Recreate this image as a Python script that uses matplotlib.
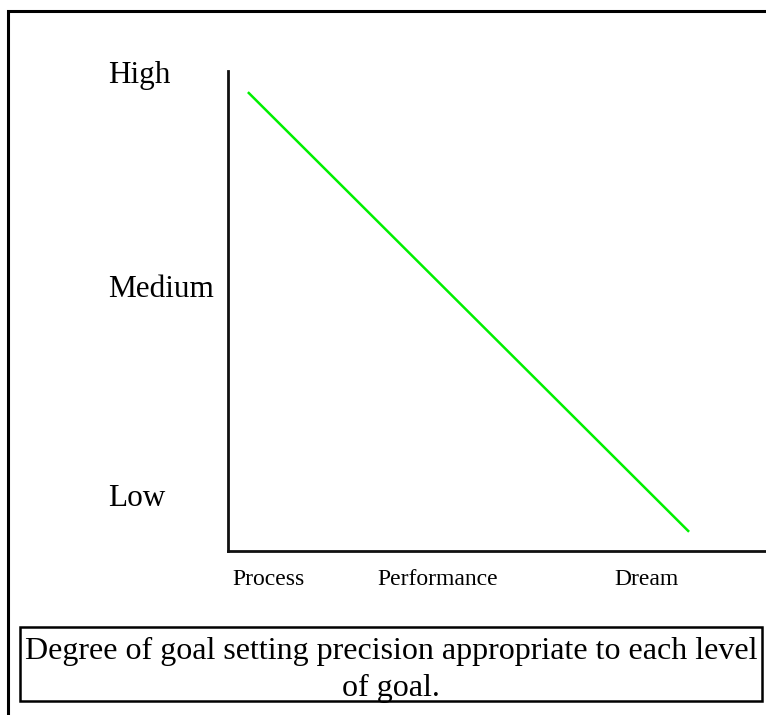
import matplotlib.pyplot as plt
import matplotlib.patches as patches

plt.rcParams['font.family'] = ['Liberation Serif', 'DejaVu Serif']

# data
goal_levels = ['Process', 'Performance', 'Dream']
goal_pos = [0.009, 0.277, 0.719]
precision_levels = ['Low', 'Medium', 'High']
precision_pos = [0.094, 0.529, 0.975]
line_x = [0.037, 0.857]
line_y = [0.956, 0.040]
caption = ['Degree of goal setting precision appropriate to each level', 'of goal.']

W, H = 766, 715
fig = plt.figure(figsize=(W / 100, H / 100), dpi=100)

# outer frame (runs off the right and bottom edges)
fig.patches.append(patches.Rectangle((8 / W, -0.1), 1.2, (H - 11) / H + 0.1,
                                     transform=fig.transFigure, fill=False,
                                     lw=2.2, ec='black'))

ax = fig.add_axes([228 / W, 1 - 551 / H, 1 - 228 / W, (551 - 71) / H])
ax.plot(line_x, line_y, color='#00f000', lw=1.8, solid_capstyle='butt')
ax.set_xlim(0, 1)
ax.set_ylim(0, 1)
for s in ['top', 'right']:
    ax.spines[s].set_visible(False)
for s in ['left', 'bottom']:
    ax.spines[s].set_linewidth(2.0)
    ax.spines[s].set_color('#111111')

ax.set_xticks(goal_pos)
ax.set_xticklabels(goal_levels, fontsize=17, ha='left', va='baseline')
ax.set_yticks(precision_pos)
ax.set_yticklabels(precision_levels, fontsize=22.5, ha='left', va='baseline')
ax.tick_params(axis='x', length=0, pad=24.5)
ax.tick_params(axis='y', length=0, pad=86.5)

# caption box
fig.patches.append(patches.Rectangle((20 / W, 1 - 701 / H), (762 - 20) / W, (701 - 627) / H,
                                     transform=fig.transFigure, fill=False,
                                     lw=1.8, ec='black'))
fig.text(391 / W, 1 - 659 / H, caption[0], ha='center', va='baseline', fontsize=23)
fig.text(391 / W, 1 - 696 / H, caption[1], ha='center', va='baseline', fontsize=23)

fig.savefig('out.png', dpi=100)
